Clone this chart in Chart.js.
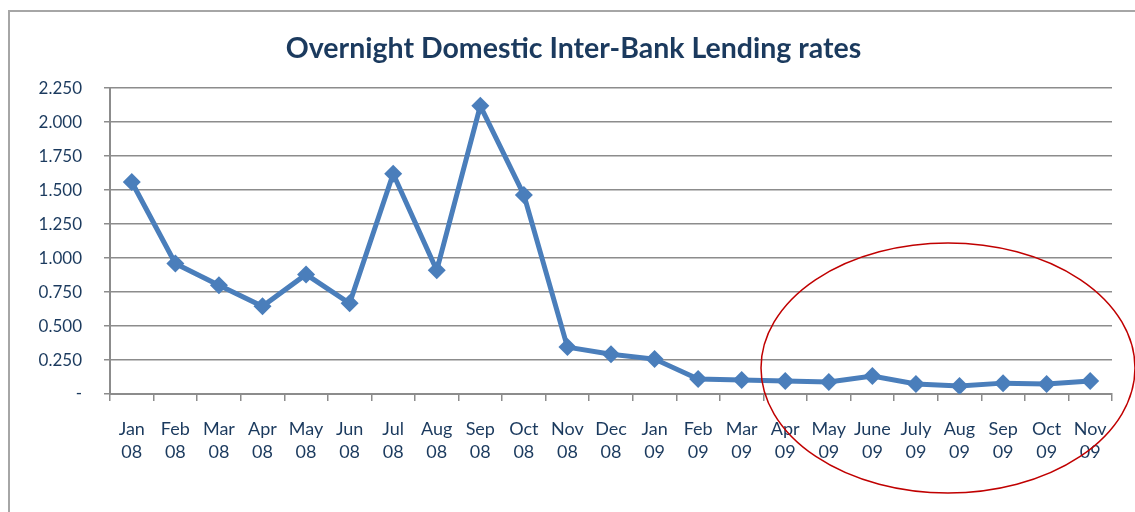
<!DOCTYPE html>
<html>
<head>
<meta charset="utf-8">
<script src="https://cdn.jsdelivr.net/npm/chart.js@4/dist/chart.umd.min.js"></script>
<style>
  html, body { margin: 0; padding: 0; background: #fff; }
  #wrap { width: 1135px; height: 512px; position: relative; }
</style>
</head>
<body>
<div id="wrap"><canvas id="miGrafico"></canvas></div>
<script>
// Datos
var meses = [
  ["Jan", "08"], ["Feb", "08"], ["Mar", "08"], ["Apr", "08"], ["May", "08"], ["Jun", "08"],
  ["Jul", "08"], ["Aug", "08"], ["Sep", "08"], ["Oct", "08"], ["Nov", "08"], ["Dec", "08"],
  ["Jan", "09"], ["Feb", "09"], ["Mar", "09"], ["Apr", "09"], ["May", "09"], ["June", "09"],
  ["July", "09"], ["Aug", "09"], ["Sep", "09"], ["Oct", "09"], ["Nov", "09"]
];
var tasas = [
  1.56, 0.96, 0.80, 0.645, 0.88, 0.667, 1.62, 0.91, 2.12, 1.465, 0.345, 0.293,
  0.257, 0.11, 0.103, 0.095, 0.088, 0.132, 0.073, 0.059, 0.08, 0.073, 0.095
];
var yMin = 0, yMax = 2.25, yPaso = 0.25;

var azulTexto = "#1B3A5E";
var gris = "#8C8C8C";
var fuente = "Lato";

// Marco y elipse roja dibujados encima
var decoracion = {
  id: "decoracion",
  beforeDraw: function (chart) {
    var c = chart.ctx;
    c.save();
    c.strokeStyle = "#A6A6A6";
    c.lineWidth = 2;
    c.beginPath();
    c.moveTo(9, 512);
    c.lineTo(9, 11);
    c.lineTo(1135, 11);
    c.stroke();
    c.restore();
  },
  afterDraw: function (chart) {
    var c = chart.ctx;
    c.save();
    c.strokeStyle = "#C00000";
    c.lineWidth = 1.5;
    c.beginPath();
    c.ellipse(948, 368, 187, 125, 0, 0, Math.PI * 2);
    c.stroke();
    c.restore();
  }
};

var ctx = document.getElementById("miGrafico").getContext("2d");
var miGrafico = new Chart(ctx, {
  type: "line",
  data: {
    labels: meses,
    datasets: [{
      data: tasas,
      borderColor: "#4A7EBB",
      backgroundColor: "#4A7EBB",
      borderWidth: 5,
      pointStyle: "rectRot",
      pointRadius: 9,
      pointBorderWidth: 0,
      tension: 0
    }]
  },
  options: {
    responsive: true,
    maintainAspectRatio: false,
    animation: false,
    layout: { padding: { left: 35, right: 23, top: 0, bottom: 0 } },
    plugins: {
      legend: { display: false },
      tooltip: { enabled: false },
      title: {
        display: true,
        text: "Overnight Domestic Inter-Bank Lending rates",
        color: azulTexto,
        font: { family: fuente, size: 28.5, weight: "bold" },
        padding: { top: 32, bottom: 22 }
      }
    },
    scales: {
      x: {
        offset: true,
        grid: { display: true, offset: true, drawOnChartArea: false, drawTicks: true, tickLength: 7, color: gris, lineWidth: 1.5 },
        border: { color: gris, width: 2 },
        ticks: {
          color: azulTexto,
          font: { family: fuente, size: 18, lineHeight: 1.25 },
          padding: 17,
          maxRotation: 0,
          autoSkip: false
        },
        afterFit: function (scale) { scale.height = 118; }
      },
      y: {
        min: yMin,
        max: yMax,
        grid: { color: gris, lineWidth: 1.5, tickLength: 6 },
        border: { color: gris, width: 2 },
        ticks: {
          stepSize: yPaso,
          color: azulTexto,
          font: { family: fuente, size: 17 },
          padding: 22,
          callback: function (v) { return v === 0 ? "-" : v.toFixed(3); }
        },
        afterFit: function (scale) { scale.width = 75; }
      }
    }
  },
  plugins: [decoracion]
});
</script>
</body>
</html>
